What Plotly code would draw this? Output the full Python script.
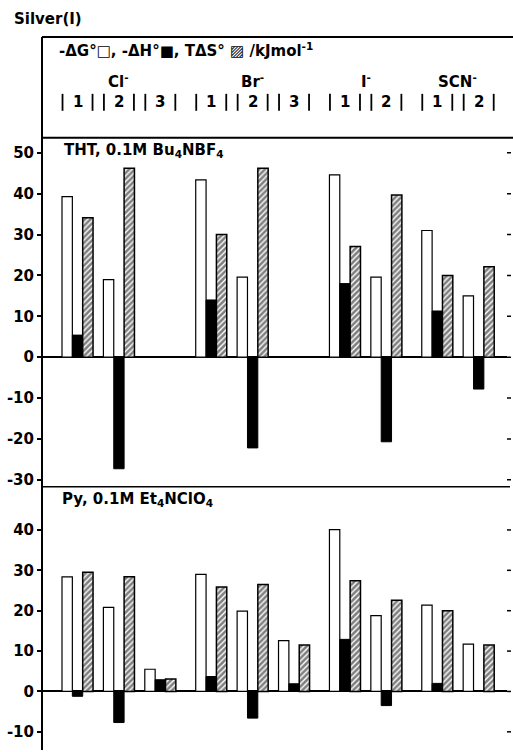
import plotly.graph_objects as go

# ---- data ----
ions = ["Cl", "Br", "I", "SCN"]
complex_labels = [["1", "2", "3"], ["1", "2", "3"], ["1", "2"], ["1", "2"]]

# THT, 0.1M Bu4NBF4  (order: Cl1, Cl2, Cl3, Br1, Br2, Br3, I1, I2, SCN1, SCN2)
tht_dG = [39.3, 19.0, None, 43.4, 19.6, None, 44.6, 19.6, 31.0, 15.0]
tht_dH = [5.4, -27.3, None, 14.0, -22.2, None, 18.0, -20.7, 11.3, -7.8]
tht_TdS = [34.1, 46.2, None, 30.0, 46.2, None, 27.1, 39.7, 20.0, 22.1]

# Py, 0.1M Et4NClO4
py_dG = [28.4, 20.8, 5.5, 29.0, 19.9, 12.6, 40.1, 18.8, 21.4, 11.7]
py_dH = [-1.2, -7.7, 2.9, 3.7, -6.6, 1.9, 12.9, -3.5, 2.0, 0.0]
py_TdS = [29.5, 28.4, 3.1, 25.9, 26.5, 11.5, 27.4, 22.6, 20.0, 11.5]

top_ticks = [-30, -20, -10, 0, 10, 20, 30, 40, 50]
bot_ticks = [-10, 0, 10, 20, 30, 40]

# ---- layout geometry ----
W, H = 513, 752
ML, MR, MT, MB = 42, 6, 37, 0
PW, PH = W - ML - MR, H - MT - MB


def pyp(ypx):
    return (H - MB - ypx) / PH


def pxp(xpx):
    return (xpx - ML) / PW


# group start positions (slot units, one slot = one bar width)
ION_GAP = 0.92
starts = []
ion_spans = []
pos = 0.0
for i, labs in enumerate(complex_labels):
    first = pos
    for _ in labs:
        starts.append(pos)
        pos += 4
    ion_spans.append((first, pos - 1))
    pos += ION_GAP

x_white = [s + 0.5 for s in starts]
x_black = [s + 1.5 for s in starts]
x_hatch = [s + 2.5 for s in starts]

SLOT_PX = 10.35
x0_px = 62
xrange = [(ML - x0_px) / SLOT_PX, (W - MR - x0_px) / SLOT_PX]

FONT = dict(family="DejaVu Sans", size=15, color="black", weight="bold")

fig = go.Figure()


def add_panel(dG, dH, TdS, xa, ya):
    fig.add_trace(go.Bar(x=x_white, y=dG, width=1, xaxis=xa, yaxis=ya,
                         marker=dict(color="white", line=dict(color="black", width=1.2)),
                         showlegend=False))
    fig.add_trace(go.Bar(x=x_black, y=dH, width=1, xaxis=xa, yaxis=ya,
                         marker=dict(color="black", line=dict(color="black", width=1)),
                         showlegend=False))
    fig.add_trace(go.Bar(x=x_hatch, y=TdS, width=1, xaxis=xa, yaxis=ya,
                         marker=dict(color="white", line=dict(color="black", width=1.5),
                                     pattern=dict(shape="/", fgcolor="black", bgcolor="white",
                                                  size=4, solidity=0.65)),
                         showlegend=False))


add_panel(tht_dG, tht_dH, tht_TdS, "x", "y")
add_panel(py_dG, py_dH, py_TdS, "x2", "y2")

yax_common = dict(showline=False, ticks="outside", ticklen=4, tickwidth=1.5, tickcolor="black",
                  showgrid=False, zeroline=True, zerolinecolor="black",
                  zerolinewidth=1.6, tickfont=FONT)

fig.update_layout(
    width=W, height=H,
    margin=dict(l=ML, r=MR, t=MT, b=MB),
    paper_bgcolor="white", plot_bgcolor="white",
    barmode="overlay",
    xaxis=dict(domain=[0, 1], range=xrange, visible=False, anchor="y"),
    xaxis2=dict(domain=[0, 1], range=xrange, visible=False, anchor="y2"),
    yaxis=dict(domain=[pyp(488), pyp(138)], range=[-31.7, 53.7], anchor="x",
               tickvals=top_ticks, ticktext=[str(t) for t in top_ticks], **yax_common),
    yaxis2=dict(domain=[0, pyp(488)], range=[-14.5, 50.7], anchor="x2",
                tickvals=bot_ticks, ticktext=[str(t) for t in bot_ticks], **yax_common),
)

shapes = []
# frame lines
shapes.append(dict(type="line", xref="paper", yref="paper", x0=0, x1=0, y0=0, y1=1,
                   line=dict(color="black", width=2)))
shapes.append(dict(type="line", xref="paper", yref="paper", x0=0, x1=pxp(513), y0=1, y1=1,
                   line=dict(color="black", width=2)))
shapes.append(dict(type="line", xref="paper", yref="paper", x0=0, x1=pxp(513), y0=pyp(138), y1=pyp(138),
                   line=dict(color="black", width=2)))
shapes.append(dict(type="line", xref="paper", yref="paper", x0=0, x1=pxp(510), y0=pyp(488), y1=pyp(488),
                   line=dict(color="black", width=1.6)))
# right-hand tick marks
for ya, tv in (("y", top_ticks), ("y2", bot_ticks)):
    for t in tv:
        shapes.append(dict(type="line", xref="paper", yref=ya, x0=1, x1=1 + 4 / PW, y0=t, y1=t,
                           line=dict(color="black", width=1.5)))
# header bracket bars
for s in starts:
    for xb in (s + 0.05, s + 2.95):
        shapes.append(dict(type="line", xref="x", yref="paper", x0=xb, x1=xb,
                           y0=pyp(111), y1=pyp(94), line=dict(color="black", width=1.8)))
fig.update_layout(shapes=shapes)

ann = []
ann.append(dict(text="Silver(I)", xref="paper", yref="paper", x=pxp(12), y=pyp(19),
                xanchor="left", yanchor="middle", showarrow=False, font=FONT))
ann.append(dict(text="-ΔG°□, -ΔH°■, TΔS° ▨ /kJmol<sup>-1</sup>", xref="paper", yref="paper",
                x=pxp(57), y=pyp(50), xanchor="left", yanchor="middle", showarrow=False, font=FONT))
for ion, (a, b) in zip(ions, ion_spans):
    ann.append(dict(text=ion + "<sup>-</sup>", xref="x", yref="paper", x=(a + b) / 2, y=pyp(81),
                    xanchor="center", yanchor="middle", showarrow=False, font=FONT))
k = 0
for labs in complex_labels:
    for lab in labs:
        ann.append(dict(text=lab, xref="x", yref="paper", x=starts[k] + 1.5, y=pyp(102),
                        xanchor="center", yanchor="middle", showarrow=False, font=FONT))
        k += 1
ann.append(dict(text="THT, 0.1M Bu<sub>4</sub>NBF<sub>4</sub>", xref="paper", yref="paper",
                x=pxp(62), y=pyp(151), xanchor="left", yanchor="middle", showarrow=False, font=FONT))
ann.append(dict(text="Py, 0.1M Et<sub>4</sub>NClO<sub>4</sub>", xref="paper", yref="paper",
                x=pxp(60), y=pyp(501), xanchor="left", yanchor="middle", showarrow=False, font=FONT))
fig.update_layout(annotations=ann)

fig.write_html("out.html")
